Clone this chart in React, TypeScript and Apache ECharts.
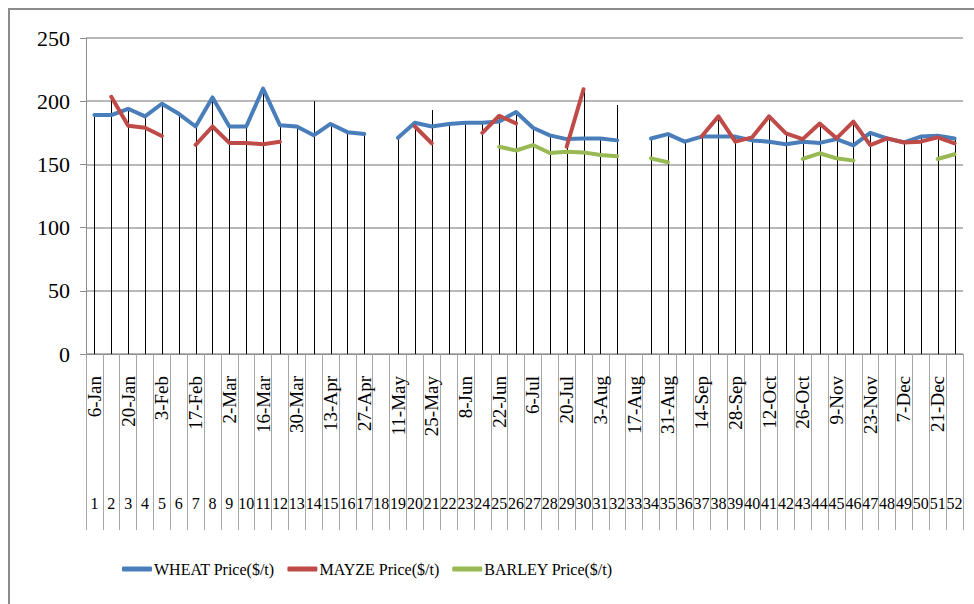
import React, { useEffect, useRef } from "react";
import * as echarts from "echarts";

const DATES = [
  "6-Jan", "13-Jan", "20-Jan", "27-Jan", "3-Feb", "10-Feb", "17-Feb", "24-Feb",
  "2-Mar", "9-Mar", "16-Mar", "23-Mar", "30-Mar", "6-Apr", "13-Apr", "20-Apr",
  "27-Apr", "4-May", "11-May", "18-May", "25-May", "1-Jun", "8-Jun", "15-Jun",
  "22-Jun", "29-Jun", "6-Jul", "13-Jul", "20-Jul", "27-Jul", "3-Aug", "10-Aug",
  "17-Aug", "24-Aug", "31-Aug", "7-Sep", "14-Sep", "21-Sep", "28-Sep", "5-Oct",
  "12-Oct", "19-Oct", "26-Oct", "2-Nov", "9-Nov", "16-Nov", "23-Nov", "30-Nov",
  "7-Dec", "14-Dec", "21-Dec", "28-Dec",
];

const WEEKS = [
  "1", "2", "3", "4", "5", "6", "7", "8", "9", "10", "11", "12", "13", "14", "15", "16",
  "17", "18", "19", "20", "21", "22", "23", "24", "25", "26", "27", "28", "29", "30",
  "31", "32", "33", "34", "35", "36", "37", "38", "39", "40", "41", "42", "43", "44",
  "45", "46", "47", "48", "49", "50", "51", "52",
];

const WHEAT = [
  189, 189, 194, 188, 198, 190, 180, 203, 180, 180, 210, 181, 180, 173, 182, 175.5,
  174, null, 171, 183, 180, 182, 183, 183, 184, 191.5, 179, 173, 170, 170.5,
  170.5, 169, null, 170.5, 174, 168, 172, 172, 172, 169, 168, 166, 168, 167,
  170, 165, 175, 170.5, 167.5, 172, 172.7, 170.5,
];

const MAYZE = [
  null, 203.5, 180.5, 179, 172.5, null, 165.5, 180, 167, 167, 166, 168, null, 200, null, null,
  null, null, null, 180, 166.7, null, null, 175, 188.5, 182.5, null, null, 164, 209.5,
  null, 197, null, null, null, null, 172, 188, 168, 171.4, 188, 174.6, 170, 182.3,
  170.6, 183.8, 165.3, 170.6, 167.3, 168, 171.4, 166.7,
];

const BARLEY = [
  null, null, null, null, null, null, null, null, null, null, null, null, null, null, null, null,
  null, null, null, null, 193, null, null, null, 164, 161, 165.3, 159, 160, 159.5,
  157.5, 156.5, null, 154.8, 151.7, null, null, null, null, null, null, null, 154.3, 158.8,
  154.8, 153, null, null, null, null, 154.3, 158,
];

const SERIES_NAMES = ["WHEAT Price($/t)", "MAYZE Price($/t)", "BARLEY Price($/t)"];
const COLORS = ["#4a7ebb", "#be4b48", "#98b954"];

const FONT = "Liberation Serif";

export default function App() {
  const ref = useRef<HTMLDivElement>(null);

  useEffect(() => {
    document.body.style.margin = "0";
    if (!ref.current) return;
    const chart = echarts.init(ref.current, null, { renderer: "svg" });

    const dropData = DATES.map((_, i) => {
      const vals = [WHEAT[i], MAYZE[i], BARLEY[i]].filter((v) => v !== null) as number[];
      return vals.length ? [i, Math.max(...vals)] : [i, null];
    }).filter((d) => d[1] !== null);

    const lineSeries = [WHEAT, MAYZE, BARLEY].map((data, k) => ({
      name: SERIES_NAMES[k],
      type: "line",
      data,
      xAxisIndex: 0,
      yAxisIndex: 0,
      showSymbol: false,
      symbol: "none",
      connectNulls: false,
      z: 5,
      lineStyle: { color: COLORS[k], width: 4, cap: "round", join: "round" },
      itemStyle: { color: COLORS[k] },
    }));

    chart.setOption({
      animation: false,
      backgroundColor: "#fff",
      textStyle: { fontFamily: FONT },
      grid: { left: 86, right: 11, top: 38, bottom: 250, containLabel: false },
      legend: {
        data: SERIES_NAMES,
        left: 117,
        top: 556,
        icon: "roundRect",
        itemWidth: 30,
        itemHeight: 5,
        itemGap: 13,
        textStyle: { fontSize: 16, fontFamily: FONT, color: "#000", padding: [0, 0, 0, -3] },
      },
      xAxis: [
        {
          type: "category",
          data: DATES,
          boundaryGap: true,
          position: "bottom",
          axisLine: { show: true, lineStyle: { color: "#8c8c8c", width: 1 } },
          axisTick: { show: true, interval: 0, length: 176, lineStyle: { color: "#a6a6a6" } },
          axisLabel: {
            interval: 1,
            rotate: 90,
            margin: 22,
            fontSize: 19,
            fontFamily: FONT,
            color: "#000",
            hideOverlap: false,
          },
          splitLine: { show: false },
        },
        {
          type: "category",
          data: WEEKS,
          boundaryGap: true,
          position: "bottom",
          axisLine: { show: false },
          axisTick: { show: false },
          axisLabel: {
            interval: 0,
            margin: 141,
            fontSize: 16,
            fontFamily: FONT,
            color: "#000",
            hideOverlap: false,
          },
          splitLine: { show: false },
        },
      ],
      yAxis: {
        type: "value",
        min: 0,
        max: 250,
        interval: 50,
        axisLine: { show: true, lineStyle: { color: "#8c8c8c" } },
        axisTick: { show: true, length: 6, lineStyle: { color: "#8c8c8c" } },
        axisLabel: { margin: 16, fontSize: 22, fontFamily: FONT, color: "#000" },
        splitLine: { show: true, lineStyle: { color: "#a0a0a0", width: 1.5 } },
      },
      graphic: [
        {
          type: "rect",
          shape: { x: 9, y: 9, width: 990, height: 620 },
          style: { fill: "none", stroke: "#8c8c8c", lineWidth: 2 },
          silent: true,
          z: 100,
        },
      ],
      series: [
        {
          type: "custom",
          name: "drop",
          xAxisIndex: 0,
          yAxisIndex: 0,
          data: dropData,
          encode: { x: 0, y: 1 },
          z: 2,
          renderItem: (params: any, api: any) => {
            const p0 = api.coord([api.value(0), 0]);
            const p1 = api.coord([api.value(0), api.value(1)]);
            const x = Math.round(p0[0]) + 0.5;
            return {
              type: "line",
              shape: { x1: x, y1: p0[1], x2: x, y2: p1[1] },
              style: { stroke: "#000", lineWidth: 1 },
            };
          },
        },
        ...lineSeries,
      ],
    });

    return () => chart.dispose();
  }, []);

  return <div ref={ref} style={{ width: 974, height: 604 }} />;
}
